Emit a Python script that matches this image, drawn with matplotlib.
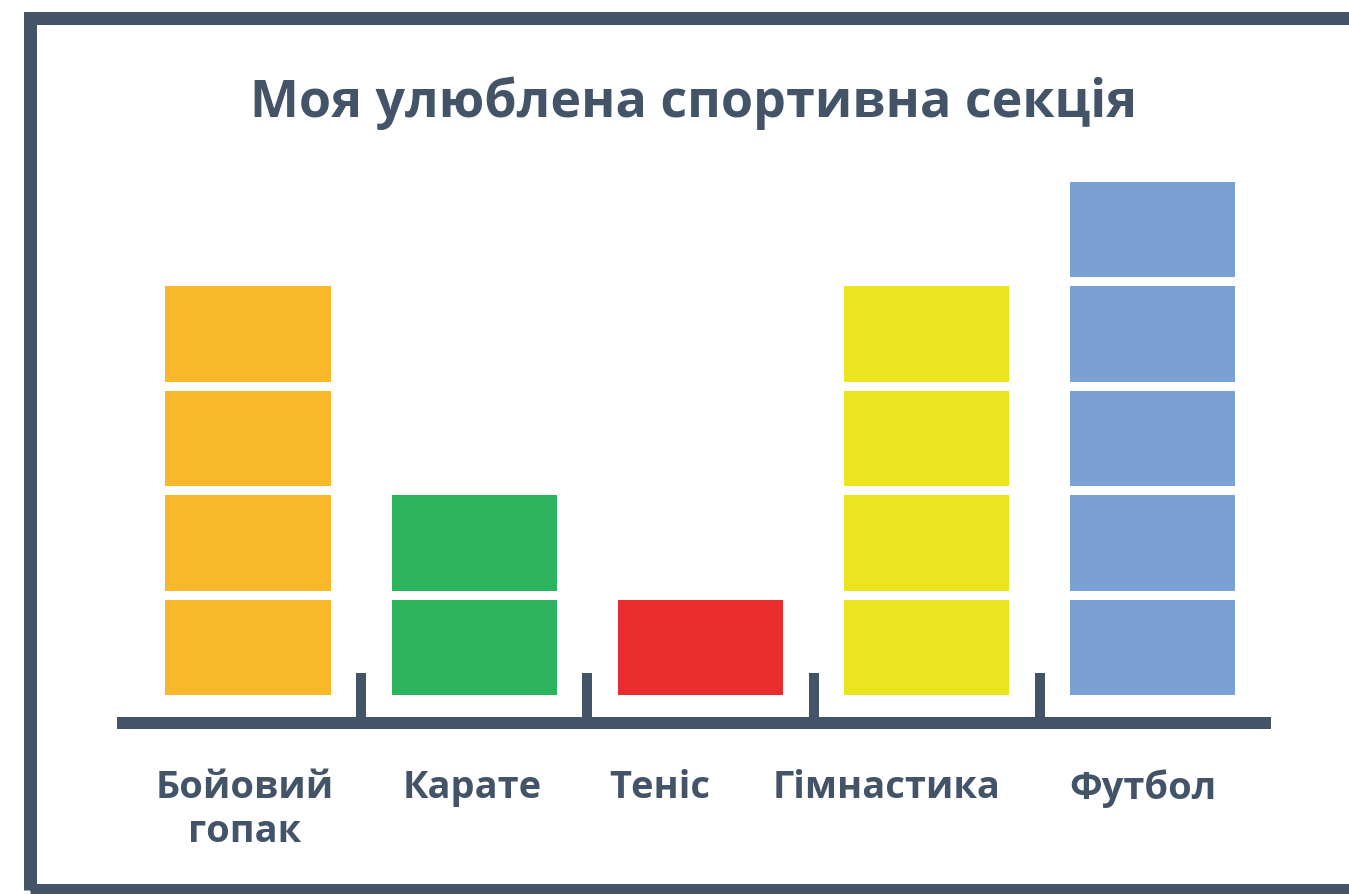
import matplotlib.pyplot as plt
from matplotlib.patches import Rectangle
from matplotlib.transforms import ScaledTranslation

# Дані діаграми
sports = ['Бойовий\nгопак', 'Карате', 'Теніс', 'Гімнастика', 'Футбол']
counts = [4, 2, 1, 4, 5]
colors = ['#F9B72A', '#2DB35E', '#E92D2E', '#EBE51F', '#7BA0D4']
title = 'Моя улюблена спортивна секція'

DARK = '#435468'
W, H = 1349, 894


def px(v: float) -> float:
    # пікселі -> пункти (dpi = 100)
    return v * 72 / 100


def main() -> None:
    plt.rcParams['font.family'] = ['Open Sans', 'DejaVu Sans']
    fig = plt.figure(figsize=(W / 100, H / 100), dpi=100)
    fig.patch.set_facecolor('white')

    # рамка навколо діаграми (права й нижня сторони обрізані краєм)
    frame = Rectangle((30 / W, 1 - 890 / H), (1355 - 30) / W, (890 - 18) / H,
                      transform=fig.transFigure, fill=False,
                      edgecolor=DARK, linewidth=px(13))
    fig.add_artist(frame)

    unit = 104.5
    step = 226.2
    ax_left, ax_right = 117, 1271
    ax_bottom, ax_top = 723, 150
    ax = fig.add_axes([ax_left / W, 1 - ax_bottom / H,
                       (ax_right - ax_left) / W, (ax_bottom - ax_top) / H])
    x0 = (ax_left - 248) / step
    ax.set_xlim(x0, x0 + (ax_right - ax_left) / step)
    y0 = -28 / unit
    ax.set_ylim(y0, y0 + (ax_bottom - ax_top) / unit)

    for i, (n, c) in enumerate(zip(counts, colors)):
        for k in range(n):
            ax.bar(i, 0.91, bottom=k, width=0.73, color=c, linewidth=0)

    for side in ['top', 'right', 'left']:
        ax.spines[side].set_visible(False)
    ax.spines['bottom'].set_color(DARK)
    ax.spines['bottom'].set_linewidth(px(12))
    ax.spines['bottom'].set_capstyle('butt')

    ax.set_yticks([])
    ax.set_xticks(range(len(sports)))
    ax.set_xticklabels(sports, fontsize=px(38), fontweight='bold',
                       color=DARK, linespacing=1.2)
    ax.tick_params(axis='x', which='major', length=0, pad=px(46))
    # підписи в оригіналі трохи зсунуті ліворуч від центрів стовпців
    shifts = [-3, -2, -41, -40, -10]
    for lab, dx in zip(ax.get_xticklabels(), shifts):
        lab.set_transform(lab.get_transform()
                          + ScaledTranslation(dx / 100, 0, fig.dpi_scale_trans))
    ax.set_xticks([i + 0.5 for i in range(len(sports) - 1)], minor=True)
    ax.tick_params(axis='x', which='minor', direction='in', length=px(50),
                   width=px(10), color=DARK)
    ax.set_facecolor('none')

    fig.text(694 / W, 1 - 103 / H, title, ha='center', va='center',
             fontsize=px(52), fontweight='bold', color=DARK)

    fig.savefig('out.png', dpi=100)


if __name__ == '__main__':
    main()
